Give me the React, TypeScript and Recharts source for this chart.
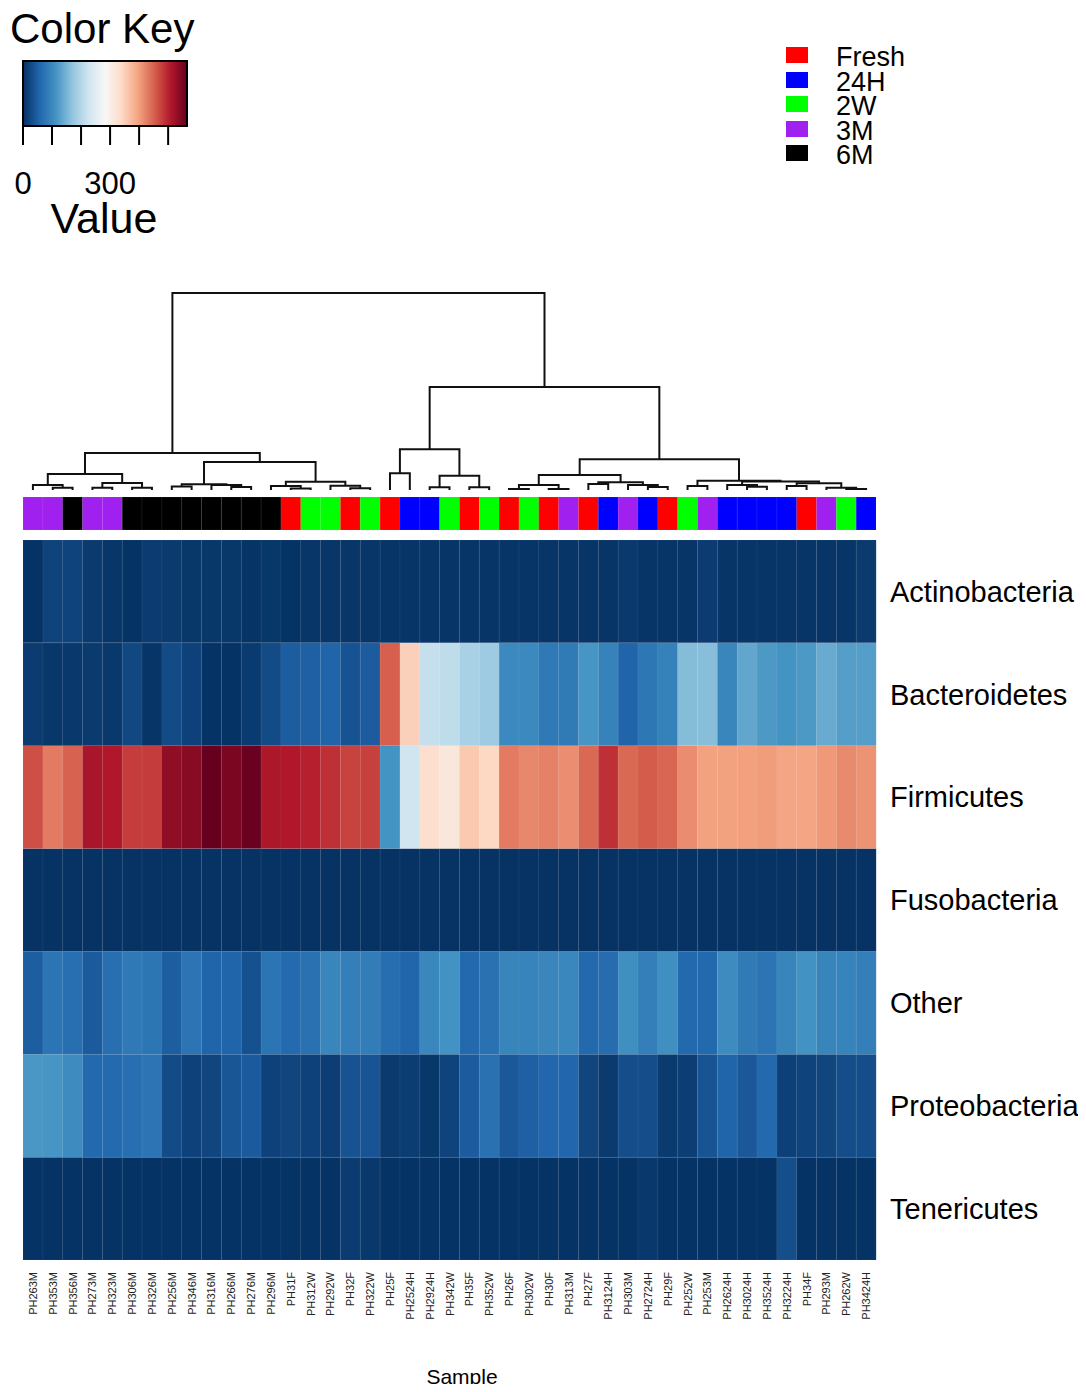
import { BarChart, Bar, Cell, XAxis, YAxis, ScatterChart, Scatter } from 'recharts'

const FONT = '"Liberation Sans", Arial, Helvetica, sans-serif'

const samples = [
  'PH263M', 'PH353M', 'PH356M', 'PH273M', 'PH323M', 'PH306M', 'PH326M', 'PH256M', 'PH346M', 'PH316M',
  'PH266M', 'PH276M', 'PH296M', 'PH31F', 'PH312W', 'PH292W', 'PH32F', 'PH322W', 'PH25F', 'PH2524H',
  'PH2924H', 'PH342W', 'PH35F', 'PH352W', 'PH26F', 'PH302W', 'PH30F', 'PH313M', 'PH27F', 'PH3124H',
  'PH303M', 'PH2724H', 'PH29F', 'PH252W', 'PH253M', 'PH2624H', 'PH3024H', 'PH3524H', 'PH3224H', 'PH34F',
  'PH293M', 'PH262W', 'PH3424H',
]

const groups = [
  '3M', '3M', '6M', '3M', '3M', '6M', '6M', '6M', '6M', '6M',
  '6M', '6M', '6M', 'Fresh', '2W', '2W', 'Fresh', '2W', 'Fresh', '24H',
  '24H', '2W', 'Fresh', '2W', 'Fresh', '2W', 'Fresh', '3M', 'Fresh', '24H',
  '3M', '24H', 'Fresh', '2W', '3M', '24H', '24H', '24H', '24H', 'Fresh',
  '3M', '2W', '24H',
]

const groupNames = ['Fresh', '24H', '2W', '3M', '6M']
const groupColors: Record<string, string> = {
  Fresh: '#FF0000',
  '24H': '#0000FF',
  '2W': '#00FF00',
  '3M': '#A020F0',
  '6M': '#000000',
}

const phyla = ['Actinobacteria', 'Bacteroidetes', 'Firmicutes', 'Fusobacteria', 'Other', 'Proteobacteria', 'Tenericutes']

const actinobacteria = [3, 20, 20, 10, 6, 3, 12, 10, 7, 7, 7, 4, 7, 3, 6, 6, 6, 6, 5, 5, 5, 5, 5, 5, 5, 5, 5, 5, 5, 5, 9, 5, 5, 5, 12, 5, 5, 5, 5, 5, 5, 5, 10]
const bacteroidetes = [12, 7, 8, 10, 8, 25, 5, 28, 18, 3, 3, 11, 28, 47, 50, 55, 37, 46, 452, 350, 215, 210, 190, 180, 100, 100, 80, 82, 115, 92, 55, 78, 90, 160, 162, 97, 135, 120, 113, 120, 140, 125, 125]
const firmicutes = [465, 430, 450, 515, 510, 480, 480, 535, 540, 565, 550, 562, 512, 510, 503, 490, 475, 477, 113, 226, 330, 315, 358, 342, 430, 420, 425, 415, 445, 490, 445, 455, 447, 416, 398, 398, 400, 402, 395, 395, 405, 418, 410]
const fusobacteria = [2, 2, 2, 2, 2, 2, 2, 2, 2, 2, 2, 2, 2, 2, 2, 2, 2, 2, 2, 2, 2, 2, 2, 2, 2, 2, 2, 2, 2, 2, 2, 2, 2, 2, 2, 2, 2, 2, 2, 2, 2, 2, 2]
const other = [48, 75, 68, 45, 68, 80, 76, 48, 74, 55, 55, 35, 75, 62, 70, 97, 88, 84, 66, 56, 98, 112, 60, 70, 95, 93, 96, 98, 60, 64, 108, 88, 108, 60, 60, 104, 82, 74, 95, 112, 95, 93, 88]
const proteobacteria = [118, 115, 103, 60, 62, 68, 74, 28, 18, 22, 40, 45, 18, 22, 18, 15, 36, 38, 10, 13, 7, 20, 46, 70, 42, 50, 58, 58, 22, 10, 30, 30, 10, 15, 38, 54, 42, 60, 17, 20, 22, 30, 30]
const tenericutes = [3, 3, 3, 3, 3, 3, 3, 3, 3, 3, 3, 3, 3, 3, 3, 3, 12, 8, 3, 3, 3, 3, 3, 3, 3, 3, 3, 3, 3, 3, 3, 8, 3, 3, 3, 3, 3, 3, 32, 3, 3, 3, 3]

const values = [actinobacteria, bacteroidetes, firmicutes, fusobacteria, other, proteobacteria, tenericutes]

// color key
const keyMax = 565
const keyTicks = [0, 100, 200, 300, 400, 500]
const keyLabels = [0, 300]

// column dendrogram: [left, right, height]; numbers are columns, 'mN' is the N-th merge
const merges: [number | string, number | string, number][] = [
  [1, 2, 2.3], [0, 'm1', 5], [3, 4, 2.3], [5, 6, 2.3], ['m3', 'm4', 7], ['m2', 'm5', 16],
  [7, 8, 3.5], [10, 11, 3], [9, 'm8', 5], ['m7', 'm9', 5.7],
  [13, 14, 1.5], [12, 'm11', 4], [16, 17, 1.7], [15, 'm13', 4.3], ['m12', 'm14', 8.3],
  ['m10', 'm15', 28], ['m6', 'm16', 37],
  [18, 19, 16.7], [20, 21, 2.7], [22, 23, 2.7], ['m19', 'm20', 14.3], ['m18', 'm21', 40.7],
  [24, 25, 1], [26, 27, 1], ['m23', 'm24', 5], [28, 29, 6], [31, 32, 3], [30, 'm27', 5],
  ['m26', 'm28', 7.7], ['m25', 'm29', 15],
  [33, 34, 4], [36, 37, 3.3], [35, 'm32', 5], [41, 42, 1], [40, 'm34', 2.3], [38, 39, 4],
  ['m36', 'm35', 6.7], ['m33', 'm37', 8.5], ['m31', 'm38', 9.3], ['m30', 'm39', 30.7],
  ['m22', 'm40', 103], ['m17', 'm41', 197],
]

const RDBU = ['#053061', '#2166ac', '#4393c3', '#92c5de', '#d1e5f0', '#f7f7f7', '#fddbc7', '#f4a582', '#d6604d', '#b2182b', '#67001f']

const hex = (c: string) => [1, 3, 5].map((i) => parseInt(c.slice(i, i + 2), 16))
const heat = (v: number) => {
  const t = Math.max(0, Math.min(1, v / keyMax)) * (RDBU.length - 1)
  const i = Math.min(Math.floor(t), RDBU.length - 2)
  const f = t - i
  const a = hex(RDBU[i])
  const b = hex(RDBU[i + 1])
  const rgb = a.map((x, k) => Math.round(x + (b[k] - x) * f))
  return `rgb(${rgb.join(',')})`
}

const heatData = samples.map((s) => {
  const row: any = { sample: s }
  phyla.forEach((p) => (row[p] = 1))
  return row
})
const sideData = samples.map((s, i) => ({ sample: s, group: groups[i], v: 1 }))

// lay out the dendrogram segments from the merge list
const nodePos: { x: number; h: number }[] = []
const posOf = (ref: number | string) =>
  typeof ref === 'number' ? { x: ref + 0.5, h: 0 } : nodePos[Number(ref.slice(1)) - 1]
const dendroSegs = merges.map(([a, b, h]) => {
  const pa = posOf(a)
  const pb = posOf(b)
  nodePos.push({ x: (pa.x + pb.x) / 2, h })
  return [
    { x: pa.x, y: pa.h },
    { x: pa.x, y: h },
    { x: pb.x, y: h },
    { x: pb.x, y: pb.h },
  ]
})

const SampleTick = (props: any) => {
  const { x, y, payload } = props
  return (
    <g transform={`translate(${x},${y})`}>
      <text transform="rotate(-90)" x={-12} y={0} dy={4} textAnchor="end" fontSize={11} fill="#222" fontFamily={FONT}>
        {payload.value}
      </text>
    </g>
  )
}

export default function App() {
  return (
    <div style={{ position: 'relative', width: 1078, height: 1376, fontFamily: FONT, background: '#fff' }}>
      {/* Color key */}
      <div style={{ position: 'absolute', left: 2, top: 0, fontSize: 42, lineHeight: '42px' }}>Color Key</div>
      <div style={{ position: 'absolute', left: 0, top: 0 }}>
        <BarChart
          width={250}
          height={200}
          layout="vertical"
          data={[{ name: 'key', v: keyMax }]}
          margin={{ top: 53, left: 15, right: 71, bottom: 12 }}
          barCategoryGap={0}
        >
          <defs>
            <linearGradient id="keyGrad" x1="0" y1="0" x2="1" y2="0">
              {RDBU.map((c, i) => (
                <stop key={i} offset={`${(i / (RDBU.length - 1)) * 100}%`} stopColor={c} />
              ))}
            </linearGradient>
          </defs>
          <XAxis
            type="number"
            domain={[0, keyMax]}
            ticks={keyTicks}
            interval={0}
            height={70}
            axisLine={false}
            tickSize={19}
            tickMargin={27}
            tickLine={{ stroke: '#000', strokeWidth: 2 }}
            tick={{ fontSize: 31, fill: '#000', fontFamily: FONT }}
            tickFormatter={(v: number) => (keyLabels.includes(v) ? String(v) : '')}
          />
          <YAxis type="category" dataKey="name" hide />
          <Bar dataKey="v" fill="url(#keyGrad)" stroke="#000" strokeWidth={2} isAnimationActive={false} />
        </BarChart>
      </div>
      <div style={{ position: 'absolute', left: 96, top: 189, transform: 'translateX(-50%)', fontSize: 43, lineHeight: '43px' }}>
        Value
      </div>

      {/* Group legend */}
      {groupNames.map((g, i) => (
        <div key={g}>
          <div
            style={{
              position: 'absolute',
              left: 778,
              top: 39 + i * 24.5,
              width: 22,
              height: 16,
              background: groupColors[g],
            }}
          />
          <div style={{ position: 'absolute', left: 828, top: 37 + i * 24.5, fontSize: 27, lineHeight: '24.5px' }}>{g}</div>
        </div>
      ))}

      {/* Column dendrogram */}
      <div style={{ position: 'absolute', left: 15, top: 280 }}>
        <ScatterChart width={853} height={207} margin={{ top: 5, right: 0, bottom: 5, left: 0 }}>
          <XAxis type="number" dataKey="x" domain={[0, samples.length]} hide />
          <YAxis type="number" dataKey="y" domain={[0, 197]} hide />
          {dendroSegs.map((seg, i) => (
            <Scatter
              key={i}
              data={seg}
              line={{ stroke: '#111', strokeWidth: 2 }}
              shape={() => <g />}
              isAnimationActive={false}
            />
          ))}
        </ScatterChart>
      </div>

      {/* Group colour bar */}
      <div style={{ position: 'absolute', left: 15, top: 489 }}>
        <BarChart width={853} height={33} data={sideData} margin={{ top: 0, right: 0, bottom: 0, left: 0 }} barCategoryGap={0}>
          <XAxis dataKey="sample" hide />
          <YAxis domain={[0, 1]} hide />
          <Bar dataKey="v" isAnimationActive={false}>
            {sideData.map((d, i) => (
              <Cell key={i} fill={groupColors[d.group]} stroke="rgba(255,255,255,0.15)" strokeWidth={0.5} />
            ))}
          </Bar>
        </BarChart>
      </div>

      {/* Heatmap */}
      <div style={{ position: 'absolute', left: 15, top: 532 }}>
        <BarChart
          width={1063}
          height={800}
          data={heatData}
          margin={{ top: 0, right: 0, bottom: 0, left: 0 }}
          barCategoryGap={0}
          barGap={0}
        >
          <XAxis
            dataKey="sample"
            interval={0}
            height={80}
            axisLine={false}
            tickLine={false}
            tickSize={0}
            tickMargin={0}
            tick={<SampleTick />}
          />
          <YAxis
            orientation="right"
            type="number"
            domain={[0, phyla.length]}
            ticks={phyla.map((_, i) => i + 0.5)}
            interval={0}
            width={210}
            axisLine={false}
            tickLine={false}
            tickSize={0}
            tickMargin={14}
            tick={{ fontSize: 29, fill: '#000', fontFamily: FONT, textAnchor: 'start' }}
            tickFormatter={(v: number) => phyla[phyla.length - 1 - Math.floor(v)]}
          />
          {[...phyla].reverse().map((p) => {
            const r = phyla.indexOf(p)
            return (
              <Bar key={p} dataKey={p} stackId="h" isAnimationActive={false}>
                {samples.map((s, c) => (
                  <Cell key={s} fill={heat(values[r][c])} stroke="rgba(255,255,255,0.1)" strokeWidth={0.5} />
                ))}
              </Bar>
            )
          })}
        </BarChart>
      </div>

      <div style={{ position: 'absolute', left: 454, top: 1358, transform: 'translateX(-50%)', fontSize: 21, lineHeight: '21px' }}>
        Sample
      </div>
    </div>
  )
}
